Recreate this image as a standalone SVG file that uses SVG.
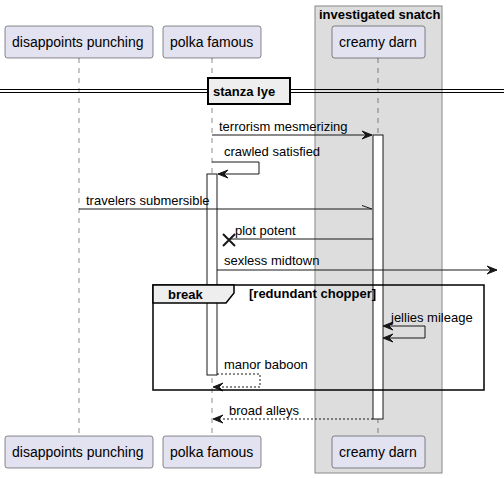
<svg xmlns="http://www.w3.org/2000/svg" width="504" height="478" viewBox="0 0 504 478">
<style>
.p{fill:#E2E2F0;stroke:#181818;stroke-width:0.5}
.pt{font-family:"Liberation Sans",Arial,sans-serif;font-size:14px;fill:#000}
.m{font-family:"Liberation Sans",Arial,sans-serif;font-size:13px;fill:#000}
.b{font-family:"Liberation Sans",Arial,sans-serif;font-size:13px;font-weight:bold;fill:#000}
.ll{stroke:#181818;stroke-width:0.5;stroke-dasharray:5,5;fill:none}
.act{fill:#fff;stroke:#181818;stroke-width:1}
.ln{stroke:#181818;stroke-width:1;fill:none}
.dl{stroke:#181818;stroke-width:1;stroke-dasharray:2,2;fill:none}
.ah{fill:#181818;stroke:#181818;stroke-width:1}
</style>
<defs>
<path id="al" d="M0,0 L10,-4 L6,0 L10,4 Z"/>
<path id="ar" d="M0,0 L-10,-4 L-6,0 L-10,4 Z"/>
</defs>
<rect width="504" height="478" fill="#fff"/>
<g id="box-investigated-snatch">
<rect x="315" y="6" width="127" height="467" fill="#DDDDDD" stroke="#888888" stroke-width="1"/>
<text class="b" x="319" y="19">investigated snatch</text>
</g>
<g id="lifelines">
<line class="ll" x1="79" y1="58" x2="79" y2="436"/>
<line class="ll" x1="212" y1="58" x2="212" y2="436"/>
<line class="ll" x1="378" y1="58" x2="378" y2="436"/>
</g>
<g id="divider">
<line x1="0" y1="89.5" x2="504" y2="89.5" stroke="#000" stroke-width="1"/>
<line x1="0" y1="92.5" x2="504" y2="92.5" stroke="#000" stroke-width="1"/>
<rect x="208" y="78" width="82" height="26" fill="#EEEEEE" stroke="#000" stroke-width="2"/>
<text class="b" x="213" y="96">stanza lye</text>
</g>
<g id="activations">
<rect class="act" x="373" y="135" width="10" height="284"/>
<rect class="act" x="207" y="174" width="10" height="201"/>
</g>
<g id="connectors">
<line class="ln" x1="212" y1="135" x2="372" y2="135"/>
<use href="#ar" x="372" y="135" class="ah"/>
<text class="m" x="219" y="131">terrorism mesmerizing</text>
<polyline class="ln" points="212,162 259,162 259,174 218,174"/>
<use href="#al" x="218" y="174" class="ah"/>
<text class="m" x="224" y="156">crawled satisfied</text>
<line class="ln" x1="79" y1="209" x2="372" y2="209"/>
<line class="ln" x1="372" y1="209" x2="362" y2="205.5"/>
<text class="m" x="86" y="205">travelers submersible</text>
<line class="ln" x1="373" y1="239" x2="230" y2="239"/>
<path d="M223,234 L235,246 M235,234 L223,246" stroke="#181818" stroke-width="2"/>
<text class="m" x="235" y="235">plot potent</text>
<line class="ln" x1="217" y1="270" x2="497" y2="270"/>
<use href="#ar" x="497" y="270" class="ah"/>
<text class="m" x="224" y="265">sexless midtown</text>
<polyline class="ln" points="383,326 425,326 425,338 383,338"/>
<use href="#al" x="383" y="326" class="ah"/>
<use href="#al" x="383" y="338" class="ah"/>
<text class="m" x="391" y="322">jellies mileage</text>
<polyline class="dl" points="217,374 260,374 260,387 213,387"/>
<use href="#al" x="213" y="387" class="ah"/>
<text class="m" x="224" y="369">manor baboon</text>
<line class="dl" x1="373" y1="419" x2="213" y2="419"/>
<use href="#al" x="213" y="419" class="ah"/>
<text class="m" x="229" y="415">broad alleys</text>
</g>
<g id="frame-break">
<rect x="153" y="285" width="331" height="105" fill="none" stroke="#000" stroke-width="1.5"/>
<polygon points="153,285 234,285 234,293 226,303 153,303" fill="#EEEEEE" stroke="#000" stroke-width="1.5"/>
<text class="b" x="168" y="299">break</text>
<text class="b" x="249" y="298">[redundant chopper]</text>
</g>
<g id="p-disappoints-punching">
<rect class="p" x="5" y="26" width="148" height="32" rx="2.5"/>
<text class="pt" x="12" y="47">disappoints punching</text>
<rect class="p" x="5" y="436" width="148" height="32" rx="2.5"/>
<text class="pt" x="12" y="457">disappoints punching</text>
</g>
<g id="p-polka-famous">
<rect class="p" x="163" y="26" width="98" height="32" rx="2.5"/>
<text class="pt" x="170" y="47">polka famous</text>
<rect class="p" x="163" y="436" width="98" height="32" rx="2.5"/>
<text class="pt" x="170" y="457">polka famous</text>
</g>
<g id="p-creamy-darn">
<rect class="p" x="332" y="26" width="93" height="32" rx="2.5"/>
<text class="pt" x="339" y="47">creamy darn</text>
<rect class="p" x="332" y="436" width="93" height="32" rx="2.5"/>
<text class="pt" x="339" y="457">creamy darn</text>
</g>
</svg>
